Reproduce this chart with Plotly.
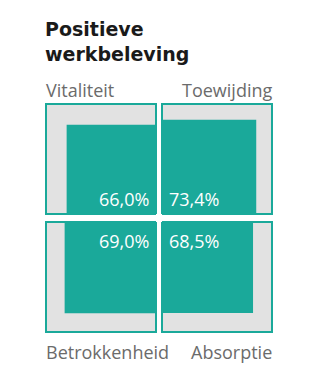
import math
import plotly.graph_objects as go

# ---- data ----
categories = ["Vitaliteit", "Toewijding", "Betrokkenheid", "Absorptie"]
values = [66.0, 73.4, 69.0, 68.5]
value_labels = ["66,0%", "73,4%", "69,0%", "68,5%"]
title_lines = ["Positieve", "werkbeleving"]

# ---- style ----
TEAL = "#1aa99a"
GRAY = "#e2e2e2"
LABEL = "#6b6b6b"
W, H = 309, 368
PX = 110.0             # pixels per unit (one outer square side)
CX, CY = 159.0, 218.0  # pixel position of grid centre
gx, gy = 6 / PX, 8 / PX

# quadrant signs: TL, TR, BL, BR
sx = [-1, 1, -1, 1]
sy = [1, 1, -1, -1]

fig = go.Figure()


def square(x0, x1, y0, y1):
    return [x0, x1, x1, x0, x0], [y0, y0, y1, y1, y0]


for i, (cat, v) in enumerate(zip(categories, values)):
    ox = sx[i] * gx / 2
    oy = sy[i] * gy / 2
    xs, ys = square(ox, ox + sx[i] * 1.0, oy, oy + sy[i] * 1.0)
    fig.add_trace(go.Scatter(x=xs, y=ys, mode="lines", fill="toself",
                             fillcolor=GRAY, line=dict(color=TEAL, width=2),
                             hoverinfo="skip", showlegend=False))
    s = math.sqrt(v / 100.0)
    xs, ys = square(ox, ox + sx[i] * s, oy, oy + sy[i] * s)
    fig.add_trace(go.Scatter(x=xs, y=ys, mode="lines", fill="toself",
                             fillcolor=TEAL, line=dict(color=TEAL, width=0),
                             name=cat, hoverinfo="name", showlegend=False))

annotations = []
# category labels
for i, cat in enumerate(categories):
    outer_x = sx[i] * (gx / 2 + 1.0)
    outer_y = sy[i] * (gy / 2 + 1.0)
    annotations.append(dict(
        x=outer_x, y=outer_y, xref="x", yref="y", text=cat, showarrow=False,
        xanchor="left" if sx[i] < 0 else "right",
        yanchor="bottom" if sy[i] > 0 else "top",
        xshift=-2 if sx[i] < 0 else 2,
        yshift=0 if sy[i] > 0 else -6,
        font=dict(family="Open Sans", size=18, color=LABEL)))
# value labels
for i, lab in enumerate(value_labels):
    annotations.append(dict(
        x=sx[i] * gx / 2, y=sy[i] * gy / 2, xref="x", yref="y", text=lab,
        showarrow=False,
        xanchor="right" if sx[i] < 0 else "left",
        yanchor="bottom" if sy[i] > 0 else "top",
        xshift=-5 if sx[i] < 0 else 5,
        yshift=1 if sy[i] > 0 else -5,
        font=dict(family="Open Sans", size=18, color="white")))
# title
annotations.append(dict(
    x=-(gx / 2 + 1.0), y=1 - 16 / H, xref="x", yref="paper",
    text="<br>".join("<b>%s</b>" % t for t in title_lines),
    showarrow=False, xanchor="left", yanchor="top", align="left", xshift=-3,
    font=dict(family="DejaVu Sans", size=19, color="#1a1a1a")))

fig.update_layout(
    width=W, height=H, margin=dict(l=0, r=0, t=0, b=0),
    paper_bgcolor="white", plot_bgcolor="white",
    xaxis=dict(range=[-CX / PX, (W - CX) / PX], visible=False, fixedrange=True),
    yaxis=dict(range=[(CY - H) / PX, CY / PX], visible=False, fixedrange=True),
    annotations=annotations,
)

fig.write_html("out.html", config={"displayModeBar": False},
               post_script="document.body.style.margin='0';")
